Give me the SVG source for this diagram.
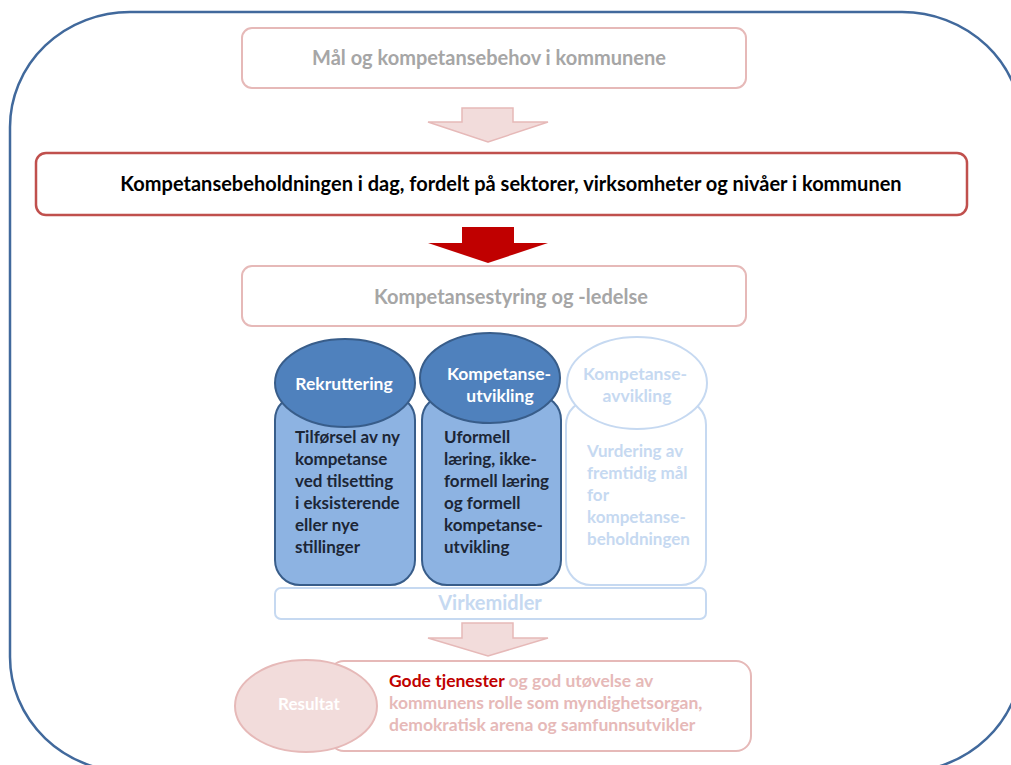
<svg xmlns="http://www.w3.org/2000/svg" width="1011" height="765" viewBox="0 0 1011 765">
<style>
text{font-family:Lato,"Liberation Sans","DejaVu Sans",sans-serif;font-weight:bold}
.box{fill:#fff;stroke:#e6b9b8;stroke-width:2}
.gray{fill:#a6a6a6;font-size:20px}
.arrowL{fill:#f2dcdb;stroke:#e6b9b8;stroke-width:1.5}
.colR{fill:#8db3e2;stroke:#385d8a;stroke-width:2}
.colE{fill:#4f81bd;stroke:#385d8a;stroke-width:2}
.colP{fill:#fff;stroke:#c6d9f1;stroke-width:2}
.w{fill:#fff;font-size:17.5px}
.dk{fill:#1c2636;font-size:17px}
.lb{fill:#c6d9f1;font-size:17px}
.pk{fill:#e6b9b8;font-size:17.5px}
</style>
<rect x="10" y="12" width="1012" height="760" rx="120" ry="115" fill="#fff" stroke="#41699c" stroke-width="2.5"/>
<g id="maal">
<rect class="box" x="242" y="28" width="504" height="60" rx="10"/>
<text class="gray" x="489" y="65" text-anchor="middle">Mål og kompetansebehov i kommunene</text>
</g>
<g id="beholdning">
<rect x="36" y="153" width="931" height="62" rx="10" fill="#fff" stroke="#c0504d" stroke-width="2.5"/>
<text x="511" y="191" text-anchor="middle" font-size="20" fill="#000">Kompetansebeholdningen i dag, fordelt på sektorer, virksomheter og nivåer i kommunen</text>
</g>
<g id="styring">
<rect class="box" x="242" y="266" width="504" height="60" rx="10"/>
<text class="gray" x="511" y="304" text-anchor="middle">Kompetansestyring og -ledelse</text>
</g>
<g id="rekruttering">
<rect class="colR" x="275" y="395" width="140" height="190" rx="25"/>
<ellipse class="colE" cx="345" cy="383" rx="70" ry="44"/>
<text class="w" x="344" y="390" text-anchor="middle">Rekruttering</text>
<text class="dk" x="295" y="443">Tilførsel av ny</text>
<text class="dk" x="295" y="465">kompetanse</text>
<text class="dk" x="295" y="487">ved tilsetting</text>
<text class="dk" x="295" y="509">i eksisterende</text>
<text class="dk" x="295" y="531">eller nye</text>
<text class="dk" x="295" y="553">stillinger</text>
</g>
<g id="utvikling">
<rect class="colR" x="422" y="395" width="139" height="190" rx="25"/>
<ellipse class="colE" cx="490" cy="378" rx="70" ry="45"/>
<text class="w" x="499" y="380" text-anchor="middle">Kompetanse-</text>
<text class="w" x="500" y="402" text-anchor="middle">utvikling</text>
<text class="dk" x="444" y="443">Uformell</text>
<text class="dk" x="444" y="465">læring, ikke-</text>
<text class="dk" x="444" y="487">formell læring</text>
<text class="dk" x="444" y="509">og formell</text>
<text class="dk" x="444" y="531">kompetanse-</text>
<text class="dk" x="444" y="553">utvikling</text>
</g>
<g id="avvikling">
<rect class="colP" x="566" y="400" width="140" height="185" rx="25"/>
<ellipse class="colP" cx="637" cy="383" rx="70" ry="46"/>
<text class="w" x="635" y="380" text-anchor="middle" style="fill:#c6d9f1">Kompetanse-</text>
<text class="w" x="637" y="402" text-anchor="middle" style="fill:#c6d9f1">avvikling</text>
<text class="lb" x="587" y="457">Vurdering av</text>
<text class="lb" x="587" y="479">fremtidig mål</text>
<text class="lb" x="587" y="501">for</text>
<text class="lb" x="587" y="523">kompetanse-</text>
<text class="lb" x="587" y="545">beholdningen</text>
</g>
<g id="virkemidler">
<rect x="275" y="588" width="431" height="31" rx="6" fill="#fff" stroke="#c6d9f1" stroke-width="2"/>
<text x="490" y="610" text-anchor="middle" font-size="20" fill="#c6d9f1">Virkemidler</text>
</g>
<g id="resultat">
<rect class="box" x="329" y="661" width="422" height="90" rx="15"/>
<ellipse cx="306" cy="706" rx="71" ry="46" fill="#f2dcdb" stroke="#e6b9b8" stroke-width="2"/>
<text x="309" y="710" text-anchor="middle" font-size="17" fill="#fff">Resultat</text>
<text class="pk" x="389" y="687"><tspan fill="#c00000">Gode tjenester</tspan> og god utøvelse av</text>
<text class="pk" x="389" y="709">kommunens rolle som myndighetsorgan,</text>
<text class="pk" x="389" y="731">demokratisk arena og samfunnsutvikler</text>
</g>
<g id="connectors">
<polygon class="arrowL" points="462,108 513,108 513,122 548,122 488,142 428,122 462,122"/>
<polygon points="462,227 514,227 514,243 548,243 488,263 428,243 462,243" fill="#c00000"/>
<polygon class="arrowL" points="462,623 513,623 513,638 548,638 488,656 428,638 462,638"/>
</g>
</svg>
